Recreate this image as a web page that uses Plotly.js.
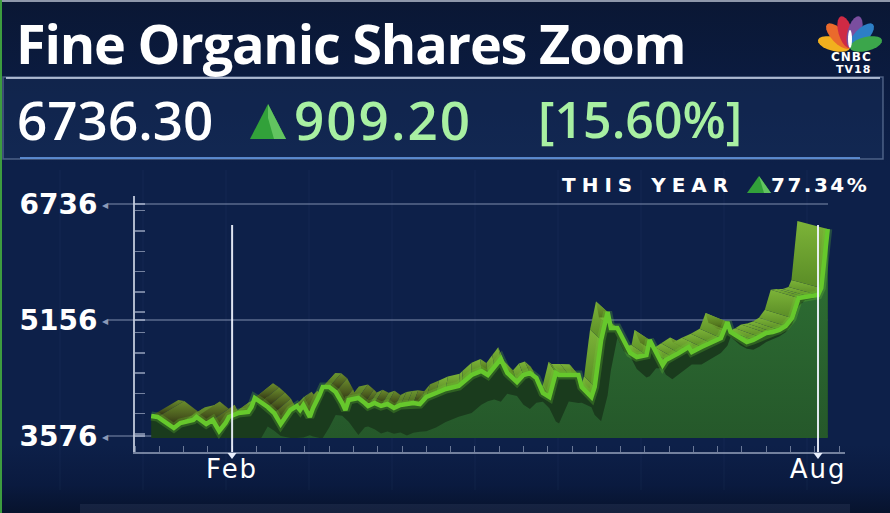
<!DOCTYPE html>
<html>
<head>
<meta charset="utf-8">
<script src="https://cdn.plot.ly/plotly-3.0.1.min.js"></script>
<style>
  html,body{margin:0;padding:0;width:890px;height:513px;overflow:hidden;
    background:linear-gradient(to bottom,#0a1734 0px,#0b1b3f 75px,#0d2049 165px,#0d2049 445px,#0a1a3f 485px,#07132d 513px);}
  #chart{width:890px;height:513px;}
</style>
</head>
<body>
<div id="chart"></div>
<script>
// ---------------- DATA ----------------
const dates = ['2022-01-07','2022-01-09','2022-01-14','2022-01-16','2022-01-20','2022-01-21','2022-01-24','2022-01-26','2022-01-28','2022-01-30','2022-01-31',
 '2022-02-03','2022-02-06','2022-02-07','2022-02-08','2022-02-10','2022-02-12','2022-02-14','2022-02-16','2022-02-19','2022-02-21','2022-02-22','2022-02-23','2022-02-25','2022-02-26','2022-02-28',
 '2022-03-01','2022-03-03','2022-03-05','2022-03-07','2022-03-08','2022-03-09','2022-03-12','2022-03-14','2022-03-15','2022-03-17','2022-03-19','2022-03-21','2022-03-23','2022-03-25','2022-03-27','2022-03-29','2022-03-31',
 '2022-04-02','2022-04-05','2022-04-08','2022-04-12','2022-04-13','2022-04-16','2022-04-19','2022-04-21','2022-04-23','2022-04-25','2022-04-27','2022-04-30',
 '2022-05-02','2022-05-04','2022-05-06','2022-05-08','2022-05-10','2022-05-12','2022-05-13','2022-05-16','2022-05-19','2022-05-20','2022-05-23','2022-05-24','2022-05-26','2022-05-28','2022-05-29','2022-05-31',
 '2022-06-02','2022-06-04','2022-06-06','2022-06-09','2022-06-10','2022-06-12','2022-06-14','2022-06-15','2022-06-17','2022-06-19','2022-06-22','2022-06-23','2022-06-26','2022-06-29',
 '2022-07-02','2022-07-04','2022-07-05','2022-07-08','2022-07-10','2022-07-12','2022-07-14','2022-07-16','2022-07-18','2022-07-20','2022-07-22','2022-07-24','2022-07-26','2022-07-28','2022-07-30',
 '2022-08-01','2022-08-02','2022-08-04'];
const closePrice = [3848,3835,3685,3753,3794,3835,3739,3794,3644,3753,3835,
 3889,3903,3971,4094,4039,3971,3889,3739,3930,3985,3930,3998,3835,3957,4134,
 4243,4243,4175,4025,3930,4066,4094,4025,3985,4025,3985,4012,3957,3998,4012,4025,4012,
 4107,4162,4216,4257,4298,4407,4461,4407,4516,4625,4434,4312,
 4407,4434,4366,4162,4107,4434,4407,4407,4407,4243,4107,4243,4884,5265,5047,5047,
 4884,4707,4652,4679,4884,4707,4543,4611,4652,4707,4788,4720,4788,4843,
 4911,5129,4993,4911,4856,4884,4924,4979,4993,5020,5074,5183,5456,5469,5469,
 5497,5592,6396];
const yTickVals = [3576, 5156, 6736];
const yTickText = ['3576', '5156', '6736'];
const xTickVals = ['2022-02-01', '2022-08-01'];
const xTickText = ['Feb', 'Aug'];
const titleText = 'Fine Organic Shares Zoom';
const lastPrice = '6736.30';
const change = '909.20';
const changePct = '[15.60%]';
const yearLabel = 'THIS YEAR';
const yearPct = '77.34%';

// ---------------- GEOMETRY / STYLE ----------------
const L=135, R=845, T=196, B=452, W=R-L, H=B-T;
const X = p => (p-L)/W, Y = p => (B-p)/H;
const ms = s => Date.parse(s + 'T00:00:00Z');
const DAY = 864e5;
const FEB1 = ms('2022-02-01');
const PXDAY = 3.2376, PXVAL = 232/3160;   // pixels per day / per price unit
const BASE = 3549;

const ts = dates.map(ms);
const n = ts.length;
const pxOf = t => 232 + (t - FEB1)/DAY*PXDAY;
function interp(t){
  if (t <= ts[0]) return closePrice[0];
  if (t >= ts[n-1]) return closePrice[n-1];
  for (let i=0;i<n-1;i++){ if (t>=ts[i] && t<=ts[i+1]){ const f=(t-ts[i])/(ts[i+1]-ts[i]); return closePrice[i]+f*(closePrice[i+1]-closePrice[i]); } }
  return closePrice[n-1];
}
// back edge of the 3D ribbon (perspective offset)
const backT = ts.map(t => { const p = pxOf(t); const dx = 40 - 0.085*p; return t + dx/PXDAY*DAY; });
const backV = ts.map((t,i) => { const p = pxOf(t); const dy = 16 - 0.012*(p-150); return closePrice[i] + dy/PXVAL; });
// lit part of the area (shadowed band under the line)
const litV = ts.map((t,i) => { const p = pxOf(t); const f = Math.max(0, Math.min(1, (830-p)/250));
  const v = interp(t - 12*f/PXDAY*DAY) - 28*f/PXVAL; return Math.max(BASE, Math.min(closePrice[i], v)); });

const traces = [];
for (let i=0;i<n-1;i++){
  const down = closePrice[i+1] < closePrice[i];
  const left = pxOf(ts[i]) < 430;
  let cs;
  if (left) cs = down ? [[0,'#2a2412'],[0.45,'#4a5a1e'],[1,'#6a8c2c']] : [[0,'#4a6a1f'],[1,'#6c9630']];
  else cs = down ? [[0,'#2c3a12'],[0.4,'#55791f'],[1,'#75a733']] : [[0,'#5a8c26'],[1,'#7cb338']];
  traces.push({type:'scatter', mode:'lines', hoverinfo:'skip',
    x:[ts[i], ts[i+1], backT[i+1], backT[i], ts[i]],
    y:[closePrice[i], closePrice[i+1], backV[i+1], backV[i], closePrice[i]],
    fill:'toself', line:{width:0, color:'rgba(0,0,0,0)'},
    fillgradient:{type:'vertical', colorscale: cs}});
}
traces.push({type:'scatter', mode:'lines', hoverinfo:'skip',
  x:[ts[0], ...ts, ts[n-1]], y:[BASE, ...closePrice, BASE], fill:'toself',
  fillcolor:'#1a3b1d', line:{width:0, color:'rgba(0,0,0,0)'}});
traces.push({type:'scatter', mode:'lines', hoverinfo:'skip',
  x:[ts[0], ...ts, ts[n-1]], y:[BASE, ...litV, BASE], fill:'toself',
  line:{width:0, color:'rgba(0,0,0,0)'},
  fillgradient:{type:'vertical', colorscale:[[0,'#25582a'],[1,'#2f7235']]}});
traces.push({type:'scatter', mode:'lines', hoverinfo:'skip', x:ts, y:closePrice,
  line:{width:9, color:'rgba(110,210,50,0.25)'}});
traces.push({type:'scatter', mode:'lines', hoverinfo:'skip', x:ts, y:closePrice,
  line:{width:4.5, color:'#66c82c'}});

// ---------------- SHAPES ----------------
const shapes = [];
const rectPx = (x0,y0,x1,y1,opt) => shapes.push(Object.assign({type:'rect', xref:'paper', yref:'paper', x0:X(x0), x1:X(x1), y0:Y(y1), y1:Y(y0), layer:'below', line:{width:0}}, opt));
const linePx = (x0,y0,x1,y1,color,width,layer) => shapes.push({type:'line', xref:'paper', yref:'paper', x0:X(x0), x1:X(x1), y0:Y(y0), y1:Y(y1), line:{color, width}, layer: layer||'below'});
const pathPx = (pts, fill, layer) => shapes.push({type:'path', xref:'paper', yref:'paper', layer: layer||'above', fillcolor: fill, line:{width:0},
  path: pts.map((p,k)=>(k?'L':'M')+X(p[0]).toFixed(5)+','+Y(p[1]).toFixed(5)).join('')+'Z'});

// frame strips
rectPx(0,0,890,2,{fillcolor:'#8e97aa'});
rectPx(0,0,2,513,{fillcolor:'#3d9c3f'});
// price box
rectPx(3,77,883,159,{fillcolor:'rgba(30,55,100,0.35)', line:{color:'rgba(150,170,205,0.45)', width:1.5}});
linePx(6,78,880,78,'rgba(200,210,230,0.8)',2);
linePx(20,158,860,158,'rgba(95,145,215,0.9)',2);
// bottom glow
rectPx(80,504,850,513,{fillcolor:'rgba(120,140,185,0.12)'});
// faint background grid
for (let gx=60; gx<880; gx+=83) linePx(gx,170,gx,490,'rgba(120,145,200,0.07)',1);
// gridlines with left arrow
yTickVals.forEach(v => shapes.push({type:'line', xref:'paper', yref:'y', x0:X(108), x1:X(828), y0:v, y1:v,
  line:{color:'rgba(165,180,210,0.5)', width:1.5}, layer:'below'}));
// Feb / Aug markers
xTickVals.forEach(d => {
  shapes.push({type:'line', xref:'x', yref:'paper', x0:ms(d), x1:ms(d), y0:0, y1:Y(225),
    line:{color:'rgba(240,244,255,0.92)', width:2}, layer:'above'});
  const px = pxOf(ms(d));
  pathPx([[px-4.5,453],[px+4.5,453],[px,459]], '#e8eefc');
});
// triangles
pathPx([[250,139],[286,139],[268,104]], '#32a13a');
pathPx([[268,104],[286,139],[274,139],[268,118]], '#62c460');
pathPx([[747,193],[771,193],[759,176]], '#32a13a');
pathPx([[759,176],[771,193],[764,193]], '#62c460');
// CNBC peacock
function petal(cx,cy,ang,len,wid,color){
  const a = ang*Math.PI/180, ux=Math.cos(a), uy=-Math.sin(a), vx=-uy, vy=ux;
  const mx=cx+ux*len/2, my=cy+uy*len/2, pts=[];
  for (let k=0;k<20;k++){ const th=2*Math.PI*k/20;
    pts.push([mx+ux*Math.cos(th)*len/2+vx*Math.sin(th)*wid/2, my+uy*Math.cos(th)*len/2+vy*Math.sin(th)*wid/2]); }
  pathPx(pts, color);
}
const petalAng = [166,134,106,74,46,14];
const petalCol = ['#f2b01e','#ea6a2c','#cf2a44','#7a4e9f','#2d7fc6','#3ba64b'];
petalAng.forEach((a,k)=>petal(850,48,a,33,14,petalCol[k]));
petal(850,48,90,18,4,'#ffffff');

// ---------------- ANNOTATIONS ----------------
const ann = [];
const txt = (text,x,y,size,color,family,weight,anchor) => ann.push({text, xref:'paper', yref:'paper', x:X(x), y:Y(y),
  xanchor:anchor||'left', yanchor:'middle', showarrow:false, font:{family, size, color, weight}});
txt('<span style="letter-spacing:-1.2px">'+titleText+'</span>', 14, 43, 54, '#ffffff', 'Open Sans', 700);
txt(lastPrice, 15, 119, 53, '#ffffff', 'Open Sans', 600);
txt('<span style="letter-spacing:2px">'+change+'</span>', 292, 119, 53, '#a8f0a2', 'Open Sans', 600);
txt(changePct, 536, 119, 50, '#a8f0a2', 'Open Sans', 600);
txt('<span style="letter-spacing:6px">'+yearLabel+'</span>', 560, 185, 20, '#ffffff', 'DejaVu Sans', 700);
txt('<span style="letter-spacing:2.5px">'+yearPct+'</span>', 769, 185, 20, '#ffffff', 'DejaVu Sans', 700);
txt('<span style="letter-spacing:1px">CNBC</span>', 851, 57, 12, '#ffffff', 'DejaVu Sans', 700, 'center');
txt('<span style="letter-spacing:1px">TV18</span>', 853, 69, 11, '#ffffff', 'DejaVu Sans', 700, 'center');
yTickVals.forEach(v => ann.push({text:'◀', xref:'paper', yref:'y', x:X(105), y:v, xanchor:'center', yanchor:'middle',
  showarrow:false, font:{size:8, color:'#8a99b8'}}));

const layout = {
  width:890, height:513, margin:{l:L, r:890-R, t:T, b:513-B},
  paper_bgcolor:'rgba(0,0,0,0)', plot_bgcolor:'rgba(0,0,0,0)', showlegend:false,
  xaxis:{type:'date', range:[ms('2022-01-02'), ms('2022-08-09')+8*3600e3], tickmode:'array',
    tickvals:xTickVals.map(ms), ticktext:xTickText.map(t=>'<span style="letter-spacing:2px">'+t+'</span>'),
    tickfont:{family:'DejaVu Sans', size:26, color:'#ffffff'},
    ticks:'', showline:true, linecolor:'rgba(200,210,230,0.55)', linewidth:1.5, showgrid:false, zeroline:false,
    ticklabelstandoff:-7, fixedrange:true,
    minor:{ticks:'inside', ticklen:6, tickwidth:1, tickcolor:'rgba(200,210,230,0.5)', tickmode:'linear', tick0:FEB1, dtick:7.5*DAY, showgrid:false}},
  yaxis:{range:[3358, 6845], tickmode:'array', tickvals:yTickVals, ticktext:yTickText,
    tickfont:{family:'DejaVu Sans', size:28, color:'#ffffff', weight:700},
    ticks:'inside', ticklen:10, tickwidth:1.5, tickcolor:'rgba(200,210,230,0.55)',
    minor:{ticks:'inside', ticklen:10, tickwidth:1.5, tickcolor:'rgba(200,210,230,0.55)', tickmode:'linear', tick0:3603, dtick:276.5, showgrid:false},
    showline:true, linecolor:'rgba(215,222,238,0.8)', linewidth:2, showgrid:false, zeroline:false,
    ticklabelstandoff:30, fixedrange:true},
  shapes, annotations: ann
};
Plotly.newPlot('chart', traces, layout, {displayModeBar:false, staticPlot:true});
</script>
</body>
</html>
